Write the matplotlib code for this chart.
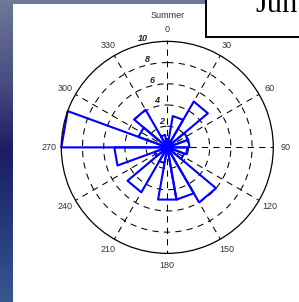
import numpy as np
import matplotlib
matplotlib.use("Agg")
import matplotlib.pyplot as plt
from matplotlib.colors import LinearSegmentedColormap
from matplotlib.patches import Rectangle

# rose bins: centre angle (deg, clockwise from north) and count
bin_centers = [0, 20, 40, 60, 80, 100, 120, 140, 160, 180, 200, 220, 240, 260, 280, 300, 320, 340]
counts = [0.8, 3.0, 5.0, 2.1, 2.1, 1.9, 1.7, 6.0, 5.0, 5.0, 1.5, 4.9, 1.3, 5.0, 10.0, 2.9, 4.1, 1.2]
bin_width = 20

ring_values = [2, 4, 6, 8, 10]
angle_ticks = list(range(0, 360, 30))
title = "Summer"
box_text = "Jun"

W, H = 299, 302
fig = plt.figure(figsize=(W / 100, H / 100), dpi=100)
fig.patch.set_facecolor("white")

# slide background bits (blue strip on the left, title box top right)
bg = fig.add_axes([0, 0, 1, 1])
bg.set_xlim(0, W)
bg.set_ylim(H, 0)
bg.axis("off")
strip = LinearSegmentedColormap.from_list(
    "strip", ["#6e7898", "#4a5184", "#1b1d64", "#263a7a", "#375690"])
bg.imshow(np.linspace(0, 1, 100).reshape(-1, 1), cmap=strip, aspect="auto",
          extent=[0, 13, H, 0])
bg.add_patch(Rectangle((0, 0), 206, 3.5, color="#6e7898", lw=0))
bg.add_patch(Rectangle((205.5, -5), 100, 41.8, facecolor="white",
                       edgecolor="black", lw=1.4))
bg.text(255, 11.5, box_text, fontsize=22, family="Liberation Serif",
        va="baseline", ha="left", color="black")

# polar rose
ax = fig.add_axes([0.205, 0.161, 0.709, 0.702], projection="polar")
ax.set_theta_zero_location("N")
ax.set_theta_direction(-1)
ax.set_ylim(0, 10)
ax.set_xticks([])
ax.set_yticks([])
ax.grid(False)
ax.spines["polar"].set_color("black")
ax.spines["polar"].set_linewidth(0.9)

dash = (0, (6, 5))
th = np.linspace(0, 2 * np.pi, 361)
for v in ring_values[:-1]:
    ax.plot(th, np.full_like(th, v), color="black", lw=0.75, ls=dash)
for a in angle_ticks:
    ax.plot([np.radians(a)] * 2, [0, 10], color="black", lw=0.75, ls=dash)

for a in angle_ticks:
    ax.text(np.radians(a), 11.15, str(a), ha="center", va="center",
            fontsize=6.5, color="#333333", family="Liberation Sans", clip_on=False)
for v in ring_values:
    ax.text(np.radians(-12.5), v + 0.5, str(v), ha="center", va="center",
            fontsize=6.5, fontweight="bold", style="italic", color="#222222",
            family="Liberation Sans", clip_on=False)

for c, v in zip(bin_centers, counts):
    t1 = np.radians(c - bin_width / 2)
    t2 = np.radians(c + bin_width / 2)
    ax.plot([0, t1, t2, 0], [0, v, v, 0], color="#0000ff", lw=1.5, clip_on=False)

fig.text(167.3 / W, 1 - 15 / H, title, ha="center", va="center",
         fontsize=6.5, color="#333333", family="Liberation Sans")

fig.savefig("out.png", dpi=100)
